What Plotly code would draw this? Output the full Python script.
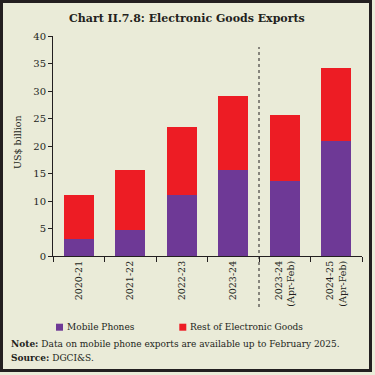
import plotly.graph_objects as go

categories = ["2020-21", "2021-22", "2022-23", "2023-24", "2023-24<br>(Apr-Feb)", "2024-25<br>(Apr-Feb)"]
mobile_phones = [3.1, 4.8, 11.1, 15.6, 13.6, 21.0]
rest_electronic = [8.0, 10.9, 12.4, 13.5, 12.0, 13.1]
y_ticks = [0, 5, 10, 15, 20, 25, 30, 35, 40]
series_names = ["Mobile Phones", "Rest of Electronic Goods"]

W, H = 375, 375
ML, MR, MT, MB = 53, 13, 36, 119
PW, PH = W - ML - MR, H - MT - MB

def px(x):
    return (x - ML) / PW

def py(y):
    return (H - MB - y) / PH

BG = "#EAEBD8"
PURPLE = "#6E3996"
RED = "#ED1C24"
FONT = "DejaVu Serif"
TXT = "#231F20"

fig = go.Figure()
fig.add_trace(go.Bar(x=categories, y=mobile_phones, name=series_names[0],
                     marker=dict(color=PURPLE, line=dict(width=0))))
fig.add_trace(go.Bar(x=categories, y=rest_electronic, name=series_names[1],
                     marker=dict(color=RED, line=dict(width=0))))

fig.update_layout(
    width=W, height=H, barmode="stack", bargap=0.42,
    paper_bgcolor=BG, plot_bgcolor=BG,
    margin=dict(l=ML, r=MR, t=MT, b=MB, autoexpand=False),
    font=dict(family=FONT, size=10, color=TXT),
    showlegend=False,
    xaxis=dict(type="category", tickson="boundaries", ticks="outside", ticklen=5,
               tickcolor=TXT, showline=True, linecolor=TXT, linewidth=1, automargin=False,
               tickangle=-90, tickfont=dict(size=9.5, family=FONT), showgrid=False,
               range=[-0.5, 5.5]),
    yaxis=dict(range=[0, 40], tickvals=y_ticks, ticks="outside", ticklen=4, automargin=False,
               tickcolor=TXT, showline=True, linecolor=TXT, linewidth=1,
               showgrid=False, zeroline=False, tickfont=dict(size=10, family=FONT)),
)

# y-axis title
fig.add_annotation(text="US$ billion", xref="paper", yref="paper", x=px(17), y=py(142),
                   textangle=-90, showarrow=False, xanchor="center", yanchor="middle",
                   font=dict(size=9.5, family=FONT, color=TXT))

# dashed separator between annual and Apr-Feb data
fig.add_shape(type="line", xref="x", yref="paper", x0=3.5, x1=3.5,
              y0=py(307), y1=py(47), line=dict(color=TXT, width=1, dash="dot"))

# legend (manual)
for (x0, col, name) in [(56, PURPLE, series_names[0]), (179.3, RED, series_names[1])]:
    fig.add_shape(type="rect", xref="paper", yref="paper", x0=px(x0), x1=px(x0 + 7),
                  y0=py(330.7), y1=py(323.7), fillcolor=col, line=dict(width=0))
    fig.add_annotation(text=name, xref="paper", yref="paper", x=px(x0 + 9.5), y=py(327),
                       xanchor="left", yanchor="middle", showarrow=False,
                       font=dict(size=9, family=FONT, color=TXT), borderpad=0)

# outer frame
for (xa, ya, xb, yb) in [(1.5, 0, 1.5, 372), (370.5, 0, 370.5, 372),
                         (0, 1.5, 372, 1.5), (0, 370.5, 372, 370.5)]:
    fig.add_shape(type="line", xref="paper", yref="paper", x0=px(xa), x1=px(xb),
                  y0=py(ya), y1=py(yb), line=dict(color=TXT, width=3))

fig.add_annotation(text="<b>Chart II.7.8: Electronic Goods Exports</b>", xref="paper", yref="paper",
                   x=px(187), y=py(18), xanchor="center", yanchor="middle", showarrow=False,
                   font=dict(size=11, family=FONT, color=TXT))
fig.add_annotation(text="<b>Note:</b> Data on mobile phone exports are available up to February 2025.",
                   xref="paper", yref="paper", x=px(10), y=py(344), xanchor="left", yanchor="middle",
                   showarrow=False, font=dict(size=9, family=FONT, color=TXT), borderpad=0)
fig.add_annotation(text="<b>Source:</b> DGCI&S.",
                   xref="paper", yref="paper", x=px(10), y=py(358), xanchor="left", yanchor="middle",
                   showarrow=False, font=dict(size=9, family=FONT, color=TXT), borderpad=0)

fig.write_html("out.html", config={"displayModeBar": False},
               post_script="document.body.style.margin='0';document.body.style.overflow='hidden';")
